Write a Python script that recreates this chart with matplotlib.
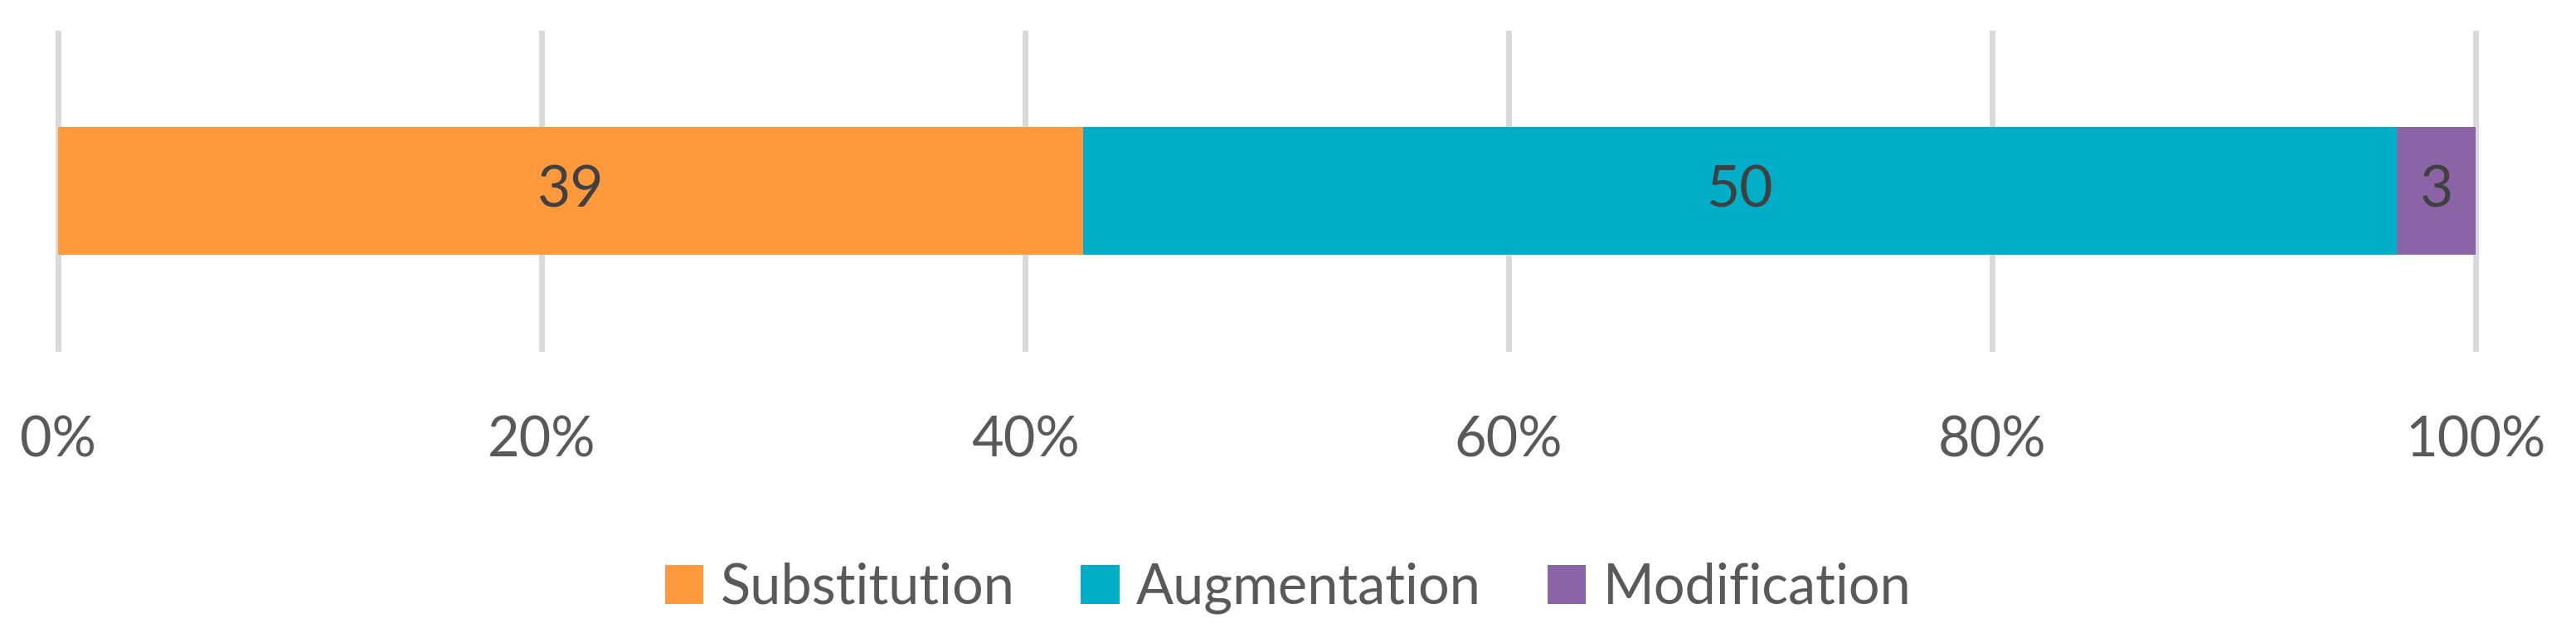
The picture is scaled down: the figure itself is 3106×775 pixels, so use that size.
import matplotlib
matplotlib.use("Agg")
import matplotlib.pyplot as plt
from matplotlib.ticker import PercentFormatter

categories = ["Substitution", "Augmentation", "Modification"]
values = [39, 50, 3]
colors = ["#FF9A3C", "#00AEC7", "#8B64A8"]
ticks = [0, 20, 40, 60, 80, 100]

plt.rcParams['font.family'] = ['Lato', 'DejaVu Sans']
fig = plt.figure(figsize=(31.06, 7.75), dpi=100)
ax = fig.add_axes([0.0225, 0.458, 0.9386, 0.49])
total = sum(values)
left = 0
for c, v, col in zip(categories, values, colors):
    w = v / total * 100
    ax.barh(0, w, left=left, height=0.405, color=col, label=c, zorder=3)
    ax.text(left + w / 2, 0, str(v), ha="center", va="center", fontsize=50, color="#404040", zorder=4)
    left += w
ax.set_xlim(0, 100)
ax.set_ylim(-0.5, 0.5)
ax.set_xticks(ticks)
ax.xaxis.set_major_formatter(PercentFormatter(decimals=0))
ax.tick_params(axis="x", length=0, labelsize=48, labelcolor="#595959", pad=58)
ax.set_yticks([])
ax.grid(axis="x", color="#D9D9D9", linewidth=5, zorder=0)
for s in ax.spines.values():
    s.set_visible(False)
for l in ax.get_xgridlines():
    l.set_clip_on(False)
fig.legend(loc="center", bbox_to_anchor=(0.5, 0.085), ncol=3, frameon=False, fontsize=48,
           labelcolor="#595959", handlelength=0.7, handleheight=0.7, handletextpad=0.3, columnspacing=1.2)
fig.savefig("out.png", dpi=100)
